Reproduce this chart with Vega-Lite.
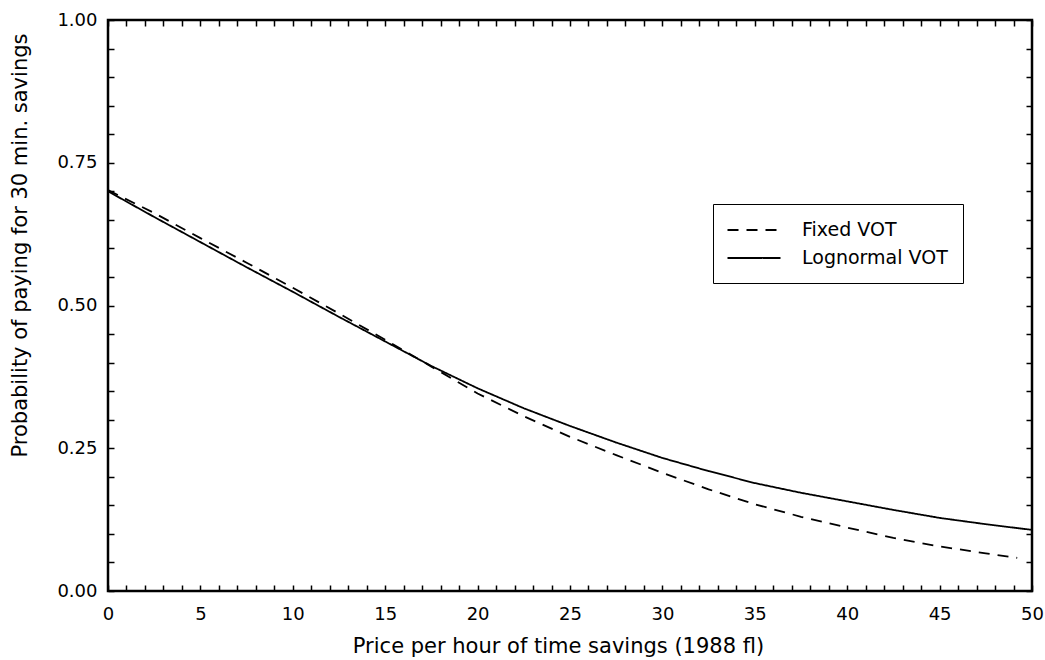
{
  "$schema": "https://vega.github.io/schema/vega-lite/v6.json",
  "width": 924,
  "height": 571,
  "autosize": {"type": "none"},
  "padding": {"left": 108, "top": 20, "right": 13, "bottom": 69},
  "background": "white",
  "config": {
    "view": {"stroke": "black", "strokeWidth": 2.5},
    "font": "DejaVu Sans",
    "axis": {
      "domain": false,
      "grid": false,
      "tickColor": "black",
      "tickWidth": 1.5,
      "labelColor": "black",
      "titleColor": "black",
      "labelFont": "DejaVu Sans",
      "titleFont": "DejaVu Sans",
      "labelFontSize": 18,
      "titleFontSize": 21,
      "titleFontWeight": "normal"
    }
  },
  "data": {
    "values": [
      {"price": 0, "prob": 0.702, "model": "Fixed VOT"},
      {"price": 2.5, "prob": 0.662, "model": "Fixed VOT"},
      {"price": 5, "prob": 0.618, "model": "Fixed VOT"},
      {"price": 7.5, "prob": 0.575, "model": "Fixed VOT"},
      {"price": 10, "prob": 0.531, "model": "Fixed VOT"},
      {"price": 12.5, "prob": 0.486, "model": "Fixed VOT"},
      {"price": 15, "prob": 0.440, "model": "Fixed VOT"},
      {"price": 17.5, "prob": 0.393, "model": "Fixed VOT"},
      {"price": 20, "prob": 0.346, "model": "Fixed VOT"},
      {"price": 22.5, "prob": 0.306, "model": "Fixed VOT"},
      {"price": 25, "prob": 0.270, "model": "Fixed VOT"},
      {"price": 27.5, "prob": 0.238, "model": "Fixed VOT"},
      {"price": 30, "prob": 0.207, "model": "Fixed VOT"},
      {"price": 32.5, "prob": 0.178, "model": "Fixed VOT"},
      {"price": 35, "prob": 0.152, "model": "Fixed VOT"},
      {"price": 37.5, "prob": 0.130, "model": "Fixed VOT"},
      {"price": 40, "prob": 0.111, "model": "Fixed VOT"},
      {"price": 42.5, "prob": 0.093, "model": "Fixed VOT"},
      {"price": 45, "prob": 0.078, "model": "Fixed VOT"},
      {"price": 47.5, "prob": 0.066, "model": "Fixed VOT"},
      {"price": 49.2, "prob": 0.058, "model": "Fixed VOT"},
      {"price": 0, "prob": 0.700, "model": "Lognormal VOT"},
      {"price": 2.5, "prob": 0.655, "model": "Lognormal VOT"},
      {"price": 5, "prob": 0.611, "model": "Lognormal VOT"},
      {"price": 7.5, "prob": 0.567, "model": "Lognormal VOT"},
      {"price": 10, "prob": 0.524, "model": "Lognormal VOT"},
      {"price": 12.5, "prob": 0.480, "model": "Lognormal VOT"},
      {"price": 15, "prob": 0.437, "model": "Lognormal VOT"},
      {"price": 17.5, "prob": 0.394, "model": "Lognormal VOT"},
      {"price": 20, "prob": 0.355, "model": "Lognormal VOT"},
      {"price": 22.5, "prob": 0.320, "model": "Lognormal VOT"},
      {"price": 25, "prob": 0.289, "model": "Lognormal VOT"},
      {"price": 27.5, "prob": 0.260, "model": "Lognormal VOT"},
      {"price": 30, "prob": 0.233, "model": "Lognormal VOT"},
      {"price": 32.5, "prob": 0.210, "model": "Lognormal VOT"},
      {"price": 35, "prob": 0.189, "model": "Lognormal VOT"},
      {"price": 37.5, "prob": 0.172, "model": "Lognormal VOT"},
      {"price": 40, "prob": 0.157, "model": "Lognormal VOT"},
      {"price": 42.5, "prob": 0.142, "model": "Lognormal VOT"},
      {"price": 45, "prob": 0.128, "model": "Lognormal VOT"},
      {"price": 47.5, "prob": 0.117, "model": "Lognormal VOT"},
      {"price": 50, "prob": 0.107, "model": "Lognormal VOT"}
    ]
  },
  "layer": [
    {
      "mark": {"type": "line", "strokeWidth": 1.8, "color": "black"},
      "encoding": {
        "x": {
          "field": "price",
          "type": "quantitative",
          "scale": {"domain": [0, 50], "nice": false},
          "axis": {
            "title": "Price per hour of time savings (1988 fl)",
            "values": [0,1,2,3,4,5,6,7,8,9,10,11,12,13,14,15,16,17,18,19,20,21,22,23,24,25,26,27,28,29,30,31,32,33,34,35,36,37,38,39,40,41,42,43,44,45,46,47,48,49,50],
            "labelExpr": "datum.value % 5 === 0 ? datum.label : ''",
            "tickSize": -6,
            "labelPadding": 20,
            "titleX": 450,
            "titleY": 55,
            "titleBaseline": "middle",
            "titleAlign": "center",
            "labelFlush": false
          }
        },
        "y": {
          "field": "prob",
          "type": "quantitative",
          "scale": {"domain": [0, 1], "nice": false},
          "axis": {
            "title": "Probability of paying for 30 min. savings",
            "values": [0,0.05,0.1,0.15,0.2,0.25,0.3,0.35,0.4,0.45,0.5,0.55,0.6,0.65,0.7,0.75,0.8,0.85,0.9,0.95,1],
            "labelExpr": "round(datum.value * 100) % 25 === 0 ? format(datum.value, '.2f') : ''",
            "tickSize": -6,
            "labelPadding": 17,
            "titleX": -88,
            "titleY": 225,
            "titleAngle": 270,
            "titleBaseline": "middle",
            "titleAlign": "center",
            "labelFlush": false
          }
        },
        "strokeDash": {
          "field": "model",
          "type": "nominal",
          "scale": {"domain": ["Fixed VOT", "Lognormal VOT"], "range": [[11, 8], [1, 0]]},
          "legend": {
            "title": null,
            "orient": "none",
            "legendX": 605,
            "legendY": 184,
            "strokeColor": "black",
            "fillColor": "white",
            "padding": 15,
            "symbolType": "M-2.65,0L2.65,0",
            "symbolSize": 400,
            "symbolOffset": 15,
            "symbolStrokeWidth": 1.8,
            "symbolStrokeColor": "black",
            "symbolFillColor": "transparent",
            "labelFontSize": 19,
            "labelFont": "DejaVu Sans",
            "labelColor": "black",
            "labelOffset": 37,
            "rowPadding": 7
          }
        }
      }
    },
    {
      "mark": {"type": "line", "opacity": 0},
      "encoding": {
        "x": {
          "field": "price",
          "type": "quantitative",
          "axis": {
            "orient": "top",
            "title": null,
            "labels": false,
            "values": [0,1,2,3,4,5,6,7,8,9,10,11,12,13,14,15,16,17,18,19,20,21,22,23,24,25,26,27,28,29,30,31,32,33,34,35,36,37,38,39,40,41,42,43,44,45,46,47,48,49,50],
            "tickSize": -6
          }
        },
        "y": {
          "field": "prob",
          "type": "quantitative",
          "axis": {
            "orient": "right",
            "title": null,
            "labels": false,
            "values": [0,0.05,0.1,0.15,0.2,0.25,0.3,0.35,0.4,0.45,0.5,0.55,0.6,0.65,0.7,0.75,0.8,0.85,0.9,0.95,1],
            "tickSize": -6
          }
        },
        "detail": {"field": "model"}
      }
    }
  ],
  "resolve": {"axis": {"x": "independent", "y": "independent"}}
}
